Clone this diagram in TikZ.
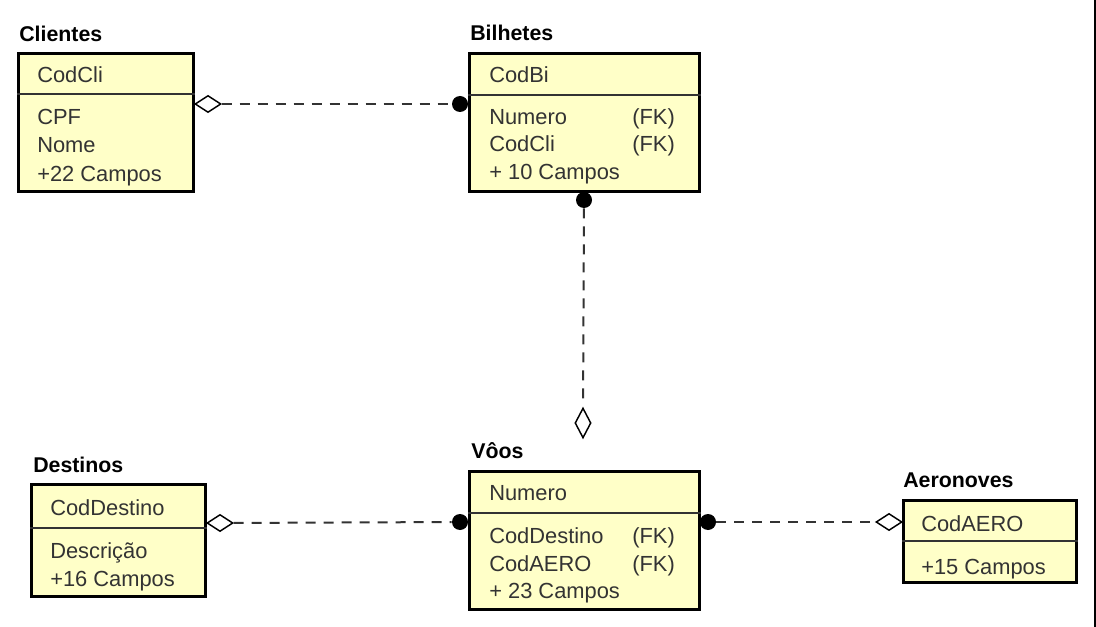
\documentclass[tikz,border=0pt]{standalone}
\usepackage{fontspec}
\setmainfont{Liberation Sans}
\usepackage{tikz}
\usetikzlibrary{fit,shapes.geometric}
\definecolor{classfill}{RGB}{255,255,200}
\definecolor{inkgray}{RGB}{51,51,51}
\tikzset{
	entity/.style={draw=black, fill=classfill, line width=2.25pt, inner sep=0pt},
	divider/.style={draw=inkgray, line width=0.9pt},
	title/.style={anchor=base west, inner sep=0pt, font=\fontsize{16}{19}\bfseries},
	field/.style={anchor=base west, inner sep=0pt, text=inkgray, font=\fontsize{16.4}{20}\selectfont},
	dot/.style={circle, fill=black, inner sep=0pt, minimum size=12pt},
	hdiam/.style={diamond, draw=black, fill=white, line width=1.1pt, inner sep=0pt, minimum width=19.5pt, minimum height=12.75pt},
	vdiam/.style={diamond, draw=black, fill=white, line width=1.1pt, inner sep=0pt, minimum width=12pt, minimum height=22.5pt},
	link/.style={draw=inkgray, line width=1.5pt, dash pattern=on 7.5pt off 6pt}
}

\begin{document}
\begin{tikzpicture}[x=0.75pt, y=-0.75pt]
		%%%%% START %%%%%
		\useasboundingbox (0,0) rectangle (1096,627);
		\draw[line width=1.5pt] (1094.5,0) -- (1094.5,627);
		
		% Clientes
		\node[title] (cliT) at (19,42) {Clientes};
		\node[entity, fit={(18.5,53.5) (193.5,191.5)}] (cli) {};
		\draw[divider] (cli.west |- 0,94) -- (cli.east |- 0,94);
		\node[field] (cliK) at (37,83) {CodCli};
		\node[field] (cli1) at (37,125) {CPF};
		\node[field] (cli2) at (37,153) {Nome};
		\node[field] (cli3) at (37,182) {+22 Campos};
		
		% Bilhetes
		\node[title] (bilT) at (470,41) {Bilhetes};
		\node[entity, fit={(469.5,53.5) (699.5,191.5)}] (bil) {};
		\draw[divider] (bil.west |- 0,95) -- (bil.east |- 0,95);
		\node[field] (bilK) at (489,83) {CodBi};
		\node[field] (bil1) at (489,125) {Numero};
		\node[field] (bil1f) at (632,125) {(FK)};
		\node[field] (bil2) at (489,152) {CodCli};
		\node[field] (bil2f) at (632,152) {(FK)};
		\node[field] (bil3) at (489,180) {+ 10 Campos};
		
		% Vôos
		\node[title] (vooT) at (471,458) {Vôos};
		\node[entity, fit={(469.5,471.5) (699.5,609.5)}] (voo) {};
		\draw[divider] (voo.west |- 0,513) -- (voo.east |- 0,513);
		\node[field] (vooK) at (489,500) {Numero};
		\node[field] (voo1) at (489,543) {CodDestino};
		\node[field] (voo1f) at (632,543) {(FK)};
		\node[field] (voo2) at (489,571) {CodAERO};
		\node[field] (voo2f) at (632,571) {(FK)};
		\node[field] (voo3) at (489,598) {+ 23 Campos};
		
		% Destinos
		\node[title] (desT) at (33,472) {Destinos};
		\node[entity, fit={(31.5,484.5) (205.5,596.5)}] (des) {};
		\draw[divider] (des.west |- 0,528) -- (des.east |- 0,528);
		\node[field] (desK) at (50,515) {CodDestino};
		\node[field] (des1) at (50,558) {Descrição};
		\node[field] (des2) at (50,586) {+16 Campos};
		
		% Aeronoves
		\node[title] (aerT) at (903,487) {Aeronoves};
		\node[entity, fit={(903.5,500.5) (1076.5,582.5)}] (aer) {};
		\draw[divider] (aer.west |- 0,541) -- (aer.east |- 0,541);
		\node[field] (aerK) at (921,531) {CodAERO};
		\node[field] (aer1) at (921,574) {+15 Campos};
		
		% ligacoes
		\node[hdiam] (cliE) at (208,104) {};
		\node[dot] (bilW) at (460,104) {};
		\draw[link] (cliE) -- (bilW);
		
		\node[dot] (bilS) at (584,200) {};
		\node[vdiam] (vooN) at (583,423) {};
		\draw[link, shorten >=4.5pt] (bilS) -- (vooN);
		
		\node[hdiam] (desE) at (220,523) {};
		\node[dot] (vooW) at (460,522) {};
		\draw[link] (desE) -- (vooW);
		
		\node[dot] (vooE) at (708,522) {};
		\node[hdiam] (aerW) at (889,522) {};
		\draw[link] (vooE) -- (aerW);
		
		%%%%% END %%%%%
\end{tikzpicture}
\end{document}
